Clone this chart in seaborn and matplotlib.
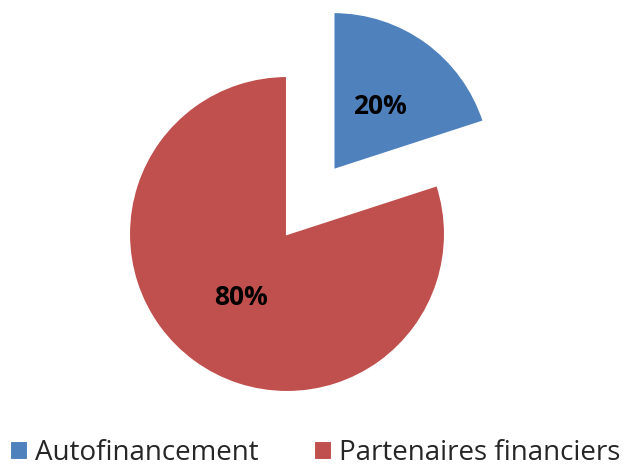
import matplotlib.pyplot as plt
import seaborn as sns

labels = ['Autofinancement', 'Partenaires financiers']
values = [20, 80]
colors = ['#4F81BD', '#C0504D']

sns.set_theme(style='white')
plt.rcParams['font.family'] = ['Open Sans', 'DejaVu Sans']

fig = plt.figure(figsize=(6.24, 4.67), dpi=100)
ax = fig.add_axes([0, 0, 1, 1])

wedges, texts, autotexts = ax.pie(
    values, colors=colors, startangle=90, counterclock=False,
    explode=[0.5, 0], autopct='%1.0f%%', pctdistance=0.5,
    wedgeprops={'edgecolor': 'white', 'linewidth': 1.5},
    textprops={'fontsize': 19, 'fontweight': 'bold', 'color': 'black'})

# pie centre at (287, 234) px, radius 158 px
r = 158
ax.set_xlim(-287 / r, (624 - 287) / r)
ax.set_ylim(-(467 - 234) / r, 234 / r)
ax.set_aspect('equal')
ax.axis('off')

fig.legend(wedges, labels, loc='center', ncol=2, bbox_to_anchor=(0.505, 0.03),
           frameon=False, fontsize=20, handlelength=0.65, handleheight=0.65,
           handletextpad=0.25, columnspacing=2.0, borderpad=0, borderaxespad=0)

fig.savefig('out.png', dpi=100)
